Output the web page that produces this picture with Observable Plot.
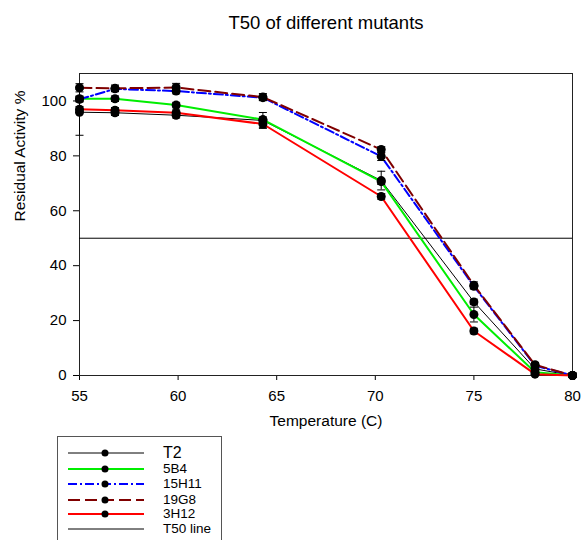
<!DOCTYPE html>
<html>
<head>
<meta charset="utf-8">
<script src="https://cdn.jsdelivr.net/npm/d3@7"></script>
<script src="https://cdn.jsdelivr.net/npm/@observablehq/plot@0.6"></script>
<style>
  body { margin: 0; background: #fff; font-family: "Liberation Sans", Arial, sans-serif; }
  #wrap { position: relative; width: 581px; height: 540px; overflow: hidden; }
  #legend { position: absolute; left: 57px; top: 436px; width: 165px; height: 120px;
            border: 1px solid #555; box-sizing: border-box; background: #fff; }
  .row { position: absolute; left: 0; height: 14px; }
  .row svg { position: absolute; left: 9px; top: 0; }
  .row span { position: absolute; left: 105px; top: 0; line-height: 14px; font-size: 13.5px; color: #000; white-space: nowrap; }
</style>
</head>
<body>
<div id="wrap"><div id="chart"></div><div id="legend"></div></div>
<script>
// ---- data ----
const title = "T50 of different mutants";
const xLabel = "Temperature (C)";
const yLabel = "Residual Activity %";
const temps = [55, 56.8, 59.9, 64.3, 70.3, 75, 78.1, 80];
const seriesNames = ["T2", "5B4", "15H11", "19G8", "3H12"];
const T2    = [95.9, 95.7, 94.8, 92.9, 71.0, 26.8, 2.4, 0];
const B5B4  = [100.8, 100.8, 98.5, 93.2, 70.6, 22.2, 1.2, 0];
const H15H11 = [100.6, 104.4, 103.6, 101.2, 79.8, 32.5, 3.6, 0];
const G19G8 = [104.8, 104.6, 104.9, 101.4, 82.3, 32.9, 3.9, 0];
const H3H12 = [97.0, 96.6, 95.7, 91.6, 65.2, 16.2, 0.5, 0];
const errT2    = [8.4, 1.0, 1.0, 2.9, 3.4, 1.0, 0.8, 0];
const err5B4   = [1.0, 1.0, 1.0, 1.0, 1.0, 2.7, 0.6, 0];
const err15H11 = [1.0, 1.0, 1.0, 1.0, 1.5, 1.0, 0.8, 0];
const err19G8  = [1.5, 1.2, 1.5, 1.3, 1.0, 1.2, 0.8, 0];
const err3H12  = [1.0, 1.0, 1.0, 1.2, 1.0, 1.0, 0.5, 0];
const t50 = 50;
const xTicks = [55, 60, 65, 70, 75, 80];
const yTicks = [0, 20, 40, 60, 80, 100];
const legendLabels = ["T2", "5B4", "15H11", "19G8", "3H12", "T50 line"];

// ---- styles ----
const styles = {
  "T2":    {stroke: "#000000", strokeWidth: 1, dash: null},
  "5B4":   {stroke: "#00ee00", strokeWidth: 2, dash: null},
  "15H11": {stroke: "#0000ff", strokeWidth: 2, dash: "9,3,2,3"},
  "19G8":  {stroke: "#800000", strokeWidth: 2, dash: "12,5"},
  "3H12":  {stroke: "#ff0000", strokeWidth: 2, dash: null}
};

const valuesBy = {"T2": T2, "5B4": B5B4, "15H11": H15H11, "19G8": G19G8, "3H12": H3H12};
const errBy = {"T2": errT2, "5B4": err5B4, "15H11": err15H11, "19G8": err19G8, "3H12": err3H12};

const rows = [];
for (const s of seriesNames) {
  temps.forEach((t, i) => rows.push({series: s, t, v: valuesBy[s][i], e: errBy[s][i]}));
}
const errRows = rows.filter(d => d.e > 0);

const capSymbol = {
  draw(ctx, size) {
    const r = Math.sqrt(size / Math.PI);
    ctx.moveTo(-r, 0); ctx.lineTo(r, 0);
  }
};

const font = "Liberation Sans, Arial, sans-serif";
const lineMarks = seriesNames.map(s => Plot.line(rows.filter(d => d.series === s), {
  x: "t", y: "v", stroke: styles[s].stroke, strokeWidth: styles[s].strokeWidth,
  strokeDasharray: styles[s].dash || undefined, curve: "linear"
}));

const chart = Plot.plot({
  width: 581, height: 430,
  marginLeft: 79, marginRight: 9, marginTop: 73, marginBottom: 55,
  style: {fontFamily: font, fontSize: "15px", color: "#000", background: "#fff"},
  x: {domain: [55, 80], ticks: xTicks, tickSize: 5, tickPadding: 10, label: null},
  y: {domain: [0, 110], ticks: yTicks, tickSize: 6, tickPadding: 7, label: null},
  marks: [
    Plot.frame({stroke: "#222", strokeWidth: 1}),
    Plot.ruleY([t50], {stroke: "#000", strokeWidth: 1}),
    ...lineMarks,
    Plot.ruleX(errRows, {x: "t", y1: d => d.v - d.e, y2: d => d.v + d.e, stroke: "#000", strokeWidth: 1}),
    Plot.dot(errRows, {x: "t", y: d => d.v - d.e, symbol: capSymbol, r: 4, stroke: "#000", strokeWidth: 1, fill: "none"}),
    Plot.dot(errRows, {x: "t", y: d => d.v + d.e, symbol: capSymbol, r: 4, stroke: "#000", strokeWidth: 1, fill: "none"}),
    Plot.dot(rows, {x: "t", y: "v", r: 4.5, fill: "#000", stroke: "none"}),
    Plot.text([title], {frameAnchor: "top", dy: -50, fontSize: 18.5, lineAnchor: "middle", fill: "#000"}),
    Plot.text([xLabel], {frameAnchor: "bottom", dy: 46, fontSize: 15.5, lineAnchor: "middle", fill: "#000"}),
    Plot.text([yLabel], {frameAnchor: "left", dx: -59, dy: -3, rotate: -90, fontSize: 15.5, lineAnchor: "middle", fill: "#000"})
  ]
});
document.getElementById("chart").appendChild(chart);

// ---- legend ----
const legend = document.getElementById("legend");
const rowTops = [9, 25, 40, 56, 70, 85];
legendLabels.forEach((lab, i) => {
  const row = document.createElement("div");
  row.className = "row";
  row.style.top = rowTops[i] + "px";
  row.style.width = "160px";
  const isT50 = lab === "T50 line";
  const st = isT50 ? {stroke: "#000", strokeWidth: 1, dash: null} : styles[lab];
  const svg = d3.create("svg").attr("width", 78).attr("height", 14);
  svg.append("line").attr("x1", 1).attr("x2", 77).attr("y1", 7).attr("y2", 7)
    .attr("stroke", st.stroke).attr("stroke-width", st.strokeWidth)
    .attr("stroke-dasharray", st.dash);
  if (!isT50) svg.append("circle").attr("cx", 38).attr("cy", 7).attr("r", 3.5).attr("fill", "#000");
  row.appendChild(svg.node());
  const span = document.createElement("span");
  span.textContent = lab;
  if (lab === "T2") { span.style.fontSize = "16px"; }
  row.appendChild(span);
  legend.appendChild(row);
});
</script>
</body>
</html>
